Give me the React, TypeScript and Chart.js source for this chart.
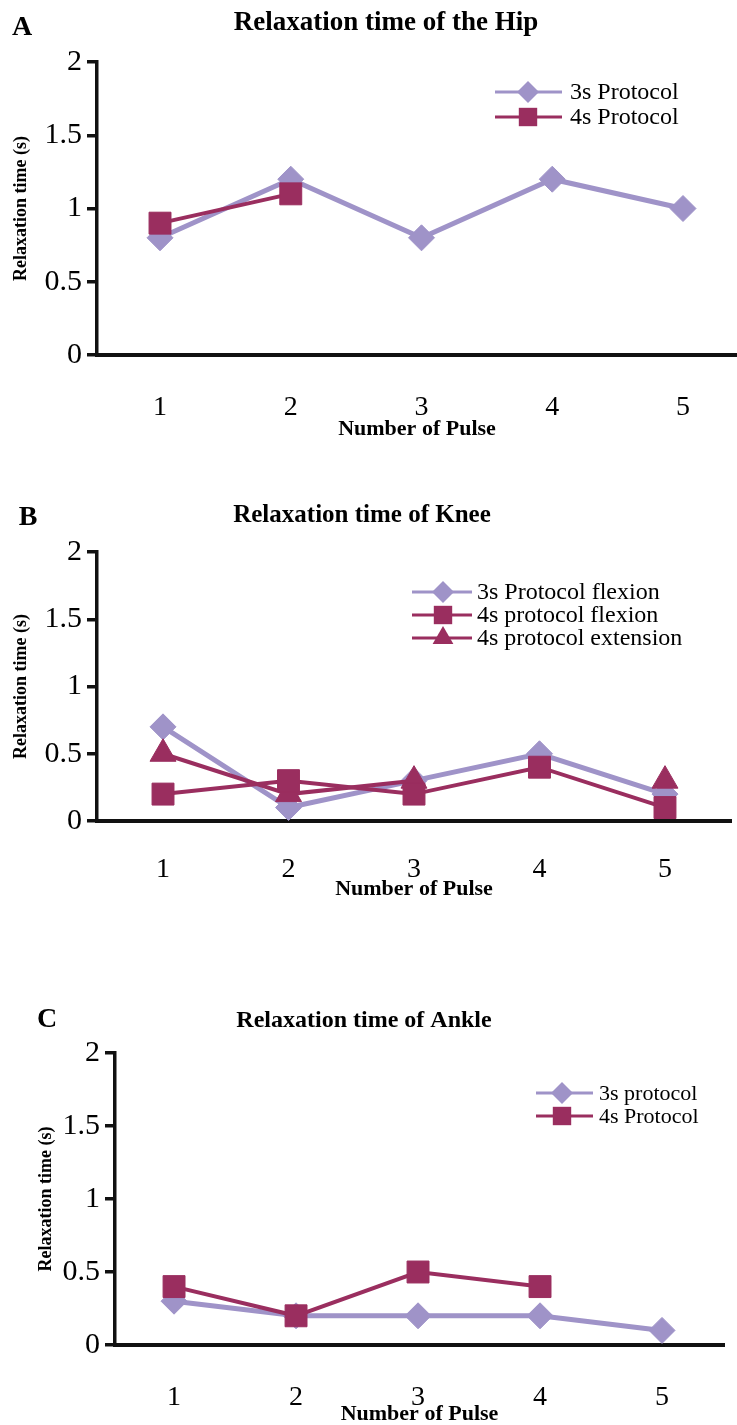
import React, { useEffect, useRef } from 'react';
import { Chart, registerables } from 'chart.js';

Chart.register(...registerables);

// ---------- data ----------
const pulses = [1, 2, 3, 4, 5];
const yTickValues = [0, 0.5, 1, 1.5, 2];

const hipLabels = ['3s Protocol', '4s Protocol'];
const hip3s = [0.8, 1.2, 0.8, 1.2, 1.0];
const hip4s = [0.9, 1.1, null, null, null];

const kneeLabels = ['3s Protocol flexion', '4s protocol flexion', '4s protocol extension'];
const knee3sFlexion = [0.7, 0.1, 0.3, 0.5, 0.2];
const knee4sFlexion = [0.2, 0.3, 0.2, 0.4, 0.1];
const knee4sExtension = [0.5, 0.2, 0.3, null, 0.3];

const ankleLabels = ['3s protocol', '4s Protocol'];
const ankle3s = [0.3, 0.2, 0.2, 0.2, 0.1];
const ankle4s = [0.4, 0.2, 0.5, 0.4, null];

// ---------- style ----------
const LAVENDER = '#9f93c8';
const MAROON = '#9a2e5f';
const SERIF = '"Liberation Serif", "Times New Roman", serif';

type Kind = 'diamond' | 'square' | 'triangle';
const STYLE: Record<Kind, { ps: string; r: number; lr: number }> = {
  diamond: { ps: 'rectRot', r: 13, lr: 11 },
  square: { ps: 'rect', r: 15.5, lr: 13 },
  triangle: { ps: 'triangle', r: 15, lr: 12 },
};

type Series = { label: string; data: (number | null)[]; kind: Kind; color: string; width: number; order: number };

type Panel = {
  top: number;
  height: number;
  area: { left: number; right: number; top: number; bottom: number };
  xMin: number;
  xMax: number;
  letter: string;
  letterX: number;
  letterY: number;
  title: string;
  titleX: number;
  titleY: number;
  titleSize: number;
  legend: { y0: number; dy: number; x0: number; x1: number; mx: number; tx: number; font: number };
  xTickPad: number;
  yTitlePad: number;
  series: Series[];
};

const panels: Panel[] = [
  {
    top: 0,
    height: 450,
    area: { left: 97, right: 737, top: 62, bottom: 355 },
    xMin: 0.518,
    xMax: 5.413,
    letter: 'A',
    letterX: 22,
    letterY: 28,
    title: 'Relaxation time of the Hip',
    titleX: 386,
    titleY: 23,
    titleSize: 27,
    legend: { y0: 92, dy: 25, x0: 495, x1: 562, mx: 528, tx: 570, font: 24 },
    xTickPad: 36,
    yTitlePad: 11,
    series: [
      { label: hipLabels[0], data: hip3s, kind: 'diamond', color: LAVENDER, width: 5, order: 3 },
      { label: hipLabels[1], data: hip4s, kind: 'square', color: MAROON, width: 4, order: 1 },
    ],
  },
  {
    top: 450,
    height: 460,
    area: { left: 97, right: 731, top: 102, bottom: 371 },
    xMin: 0.474,
    xMax: 5.526,
    letter: 'B',
    letterX: 28,
    letterY: 68,
    title: 'Relaxation time of Knee',
    titleX: 362,
    titleY: 66,
    titleSize: 25,
    legend: { y0: 142, dy: 23, x0: 412, x1: 472, mx: 443, tx: 477, font: 24 },
    xTickPad: 32,
    yTitlePad: 11,
    series: [
      { label: kneeLabels[0], data: knee3sFlexion, kind: 'diamond', color: LAVENDER, width: 5, order: 3 },
      { label: kneeLabels[1], data: knee4sFlexion, kind: 'square', color: MAROON, width: 4, order: 1 },
      { label: kneeLabels[2], data: knee4sExtension, kind: 'triangle', color: MAROON, width: 4, order: 2 },
    ],
  },
  {
    top: 910,
    height: 525,
    area: { left: 115, right: 724, top: 143, bottom: 435 },
    xMin: 0.516,
    xMax: 5.508,
    letter: 'C',
    letterX: 47,
    letterY: 110,
    title: 'Relaxation time of Ankle',
    titleX: 364,
    titleY: 111,
    titleSize: 24,
    legend: { y0: 183, dy: 23, x0: 536, x1: 593, mx: 562, tx: 599, font: 22 },
    xTickPad: 36,
    yTitlePad: 36,
    series: [
      { label: ankleLabels[0], data: ankle3s, kind: 'diamond', color: LAVENDER, width: 5, order: 3 },
      { label: ankleLabels[1], data: ankle4s, kind: 'square', color: MAROON, width: 4, order: 1 },
    ],
  },
];

function drawMarker(ctx: CanvasRenderingContext2D, kind: Kind, x: number, y: number, r: number) {
  ctx.beginPath();
  if (kind === 'diamond') {
    ctx.moveTo(x - r, y);
    ctx.lineTo(x, y - r);
    ctx.lineTo(x + r, y);
    ctx.lineTo(x, y + r);
  } else if (kind === 'square') {
    const s = r * Math.SQRT1_2;
    ctx.rect(x - s, y - s, 2 * s, 2 * s);
  } else {
    ctx.moveTo(x, y - r);
    ctx.lineTo(x + r * 0.866, y + r / 2);
    ctx.lineTo(x - r * 0.866, y + r / 2);
  }
  ctx.closePath();
  ctx.fill();
}

function makeDecorPlugin(p: Panel) {
  return {
    id: 'panelDecor' + p.letter,
    afterDraw(chart: any) {
      const ctx: CanvasRenderingContext2D = chart.ctx;
      ctx.save();
      ctx.fillStyle = '#000';
      ctx.textBaseline = 'middle';
      ctx.textAlign = 'center';
      ctx.font = `bold 28px ${SERIF}`;
      ctx.fillText(p.letter, p.letterX, p.letterY);
      ctx.font = `bold ${p.titleSize}px ${SERIF}`;
      ctx.fillText(p.title, p.titleX, p.titleY);

      const L = p.legend;
      p.series.forEach((s, i) => {
        const y = L.y0 + i * L.dy;
        ctx.strokeStyle = s.color;
        ctx.lineWidth = 3;
        ctx.beginPath();
        ctx.moveTo(L.x0, y);
        ctx.lineTo(L.x1, y);
        ctx.stroke();
        ctx.fillStyle = s.color;
        drawMarker(ctx, s.kind, L.mx, y, STYLE[s.kind].lr);
        ctx.fillStyle = '#000';
        ctx.textAlign = 'left';
        ctx.font = `${L.font}px ${SERIF}`;
        ctx.fillText(s.label, L.tx, y + 1);
      });
      ctx.restore();
    },
  };
}

function PanelChart({ p }: { p: Panel }) {
  const ref = useRef<HTMLCanvasElement | null>(null);
  useEffect(() => {
    if (!ref.current) return;
    const chart = new Chart(ref.current, {
      type: 'line',
      data: {
        datasets: p.series.map((s) => ({
          label: s.label,
          data: pulses.map((x, i) => ({ x, y: s.data[i] })),
          borderColor: s.color,
          backgroundColor: s.color,
          pointBackgroundColor: s.color,
          pointBorderColor: s.color,
          pointBorderWidth: 1,
          pointStyle: STYLE[s.kind].ps as any,
          pointRadius: STYLE[s.kind].r,
          pointHoverRadius: STYLE[s.kind].r,
          borderWidth: s.width,
          tension: 0,
          spanGaps: false,
          order: s.order,
          clip: false as any,
        })),
      },
      options: {
        animation: false,
        responsive: false,
        events: [],
        layout: {
          autoPadding: false,
          padding: { top: p.area.top, right: 737 - p.area.right, left: 0, bottom: 0 },
        },
        plugins: {
          legend: { display: false },
          title: { display: false },
          tooltip: { enabled: false },
        },
        scales: {
          x: {
            type: 'linear',
            min: p.xMin,
            max: p.xMax,
            afterBuildTicks: (s: any) => {
              s.ticks = pulses.map((v) => ({ value: v }));
            },
            afterFit: (s: any) => {
              s.height = p.height - p.area.bottom;
              s.paddingLeft = 0;
              s.paddingRight = 0;
            },
            ticks: {
              autoSkip: false,
              maxRotation: 0,
              padding: p.xTickPad,
              color: '#000',
              font: { family: SERIF, size: 28 },
              callback: (v: any) => String(v),
            },
            grid: { display: false, drawTicks: false },
            border: { display: true, color: '#111', width: 4 },
            title: {
              display: true,
              text: 'Number of Pulse',
              color: '#000',
              font: { family: SERIF, size: 22, weight: 'bold' },
              padding: { top: 0, bottom: 7 },
            },
          },
          y: {
            type: 'linear',
            min: 0,
            max: 2,
            afterBuildTicks: (s: any) => {
              s.ticks = yTickValues.map((v) => ({ value: v }));
            },
            afterFit: (s: any) => {
              s.width = p.area.left;
              s.paddingTop = 0;
              s.paddingBottom = 0;
            },
            ticks: {
              padding: 5,
              color: '#000',
              font: { family: SERIF, size: 30 },
              callback: (v: any) => String(v),
            },
            grid: {
              drawOnChartArea: false,
              drawTicks: true,
              tickLength: 10,
              color: '#111',
              lineWidth: 3.5,
            },
            border: { display: true, color: '#111', width: 3.5 },
            title: {
              display: true,
              text: 'Relaxation time (s)',
              color: '#000',
              font: { family: SERIF, size: 18, weight: 'bold' },
              padding: { top: p.yTitlePad, bottom: 0 },
            },
          },
        },
      } as any,
      plugins: [makeDecorPlugin(p)],
    });
    return () => chart.destroy();
  }, [p]);
  return (
    <canvas
      ref={ref}
      width={737}
      height={p.height}
      style={{ position: 'absolute', left: 0, top: p.top, width: 737, height: p.height }}
    />
  );
}

export default function App() {
  return (
    <div
      style={{
        position: 'absolute',
        left: 0,
        top: 0,
        width: 737,
        height: 1425,
        overflow: 'hidden',
        background: '#fff',
      }}
    >
      {panels.map((p) => (
        <PanelChart key={p.letter} p={p} />
      ))}
    </div>
  );
}
